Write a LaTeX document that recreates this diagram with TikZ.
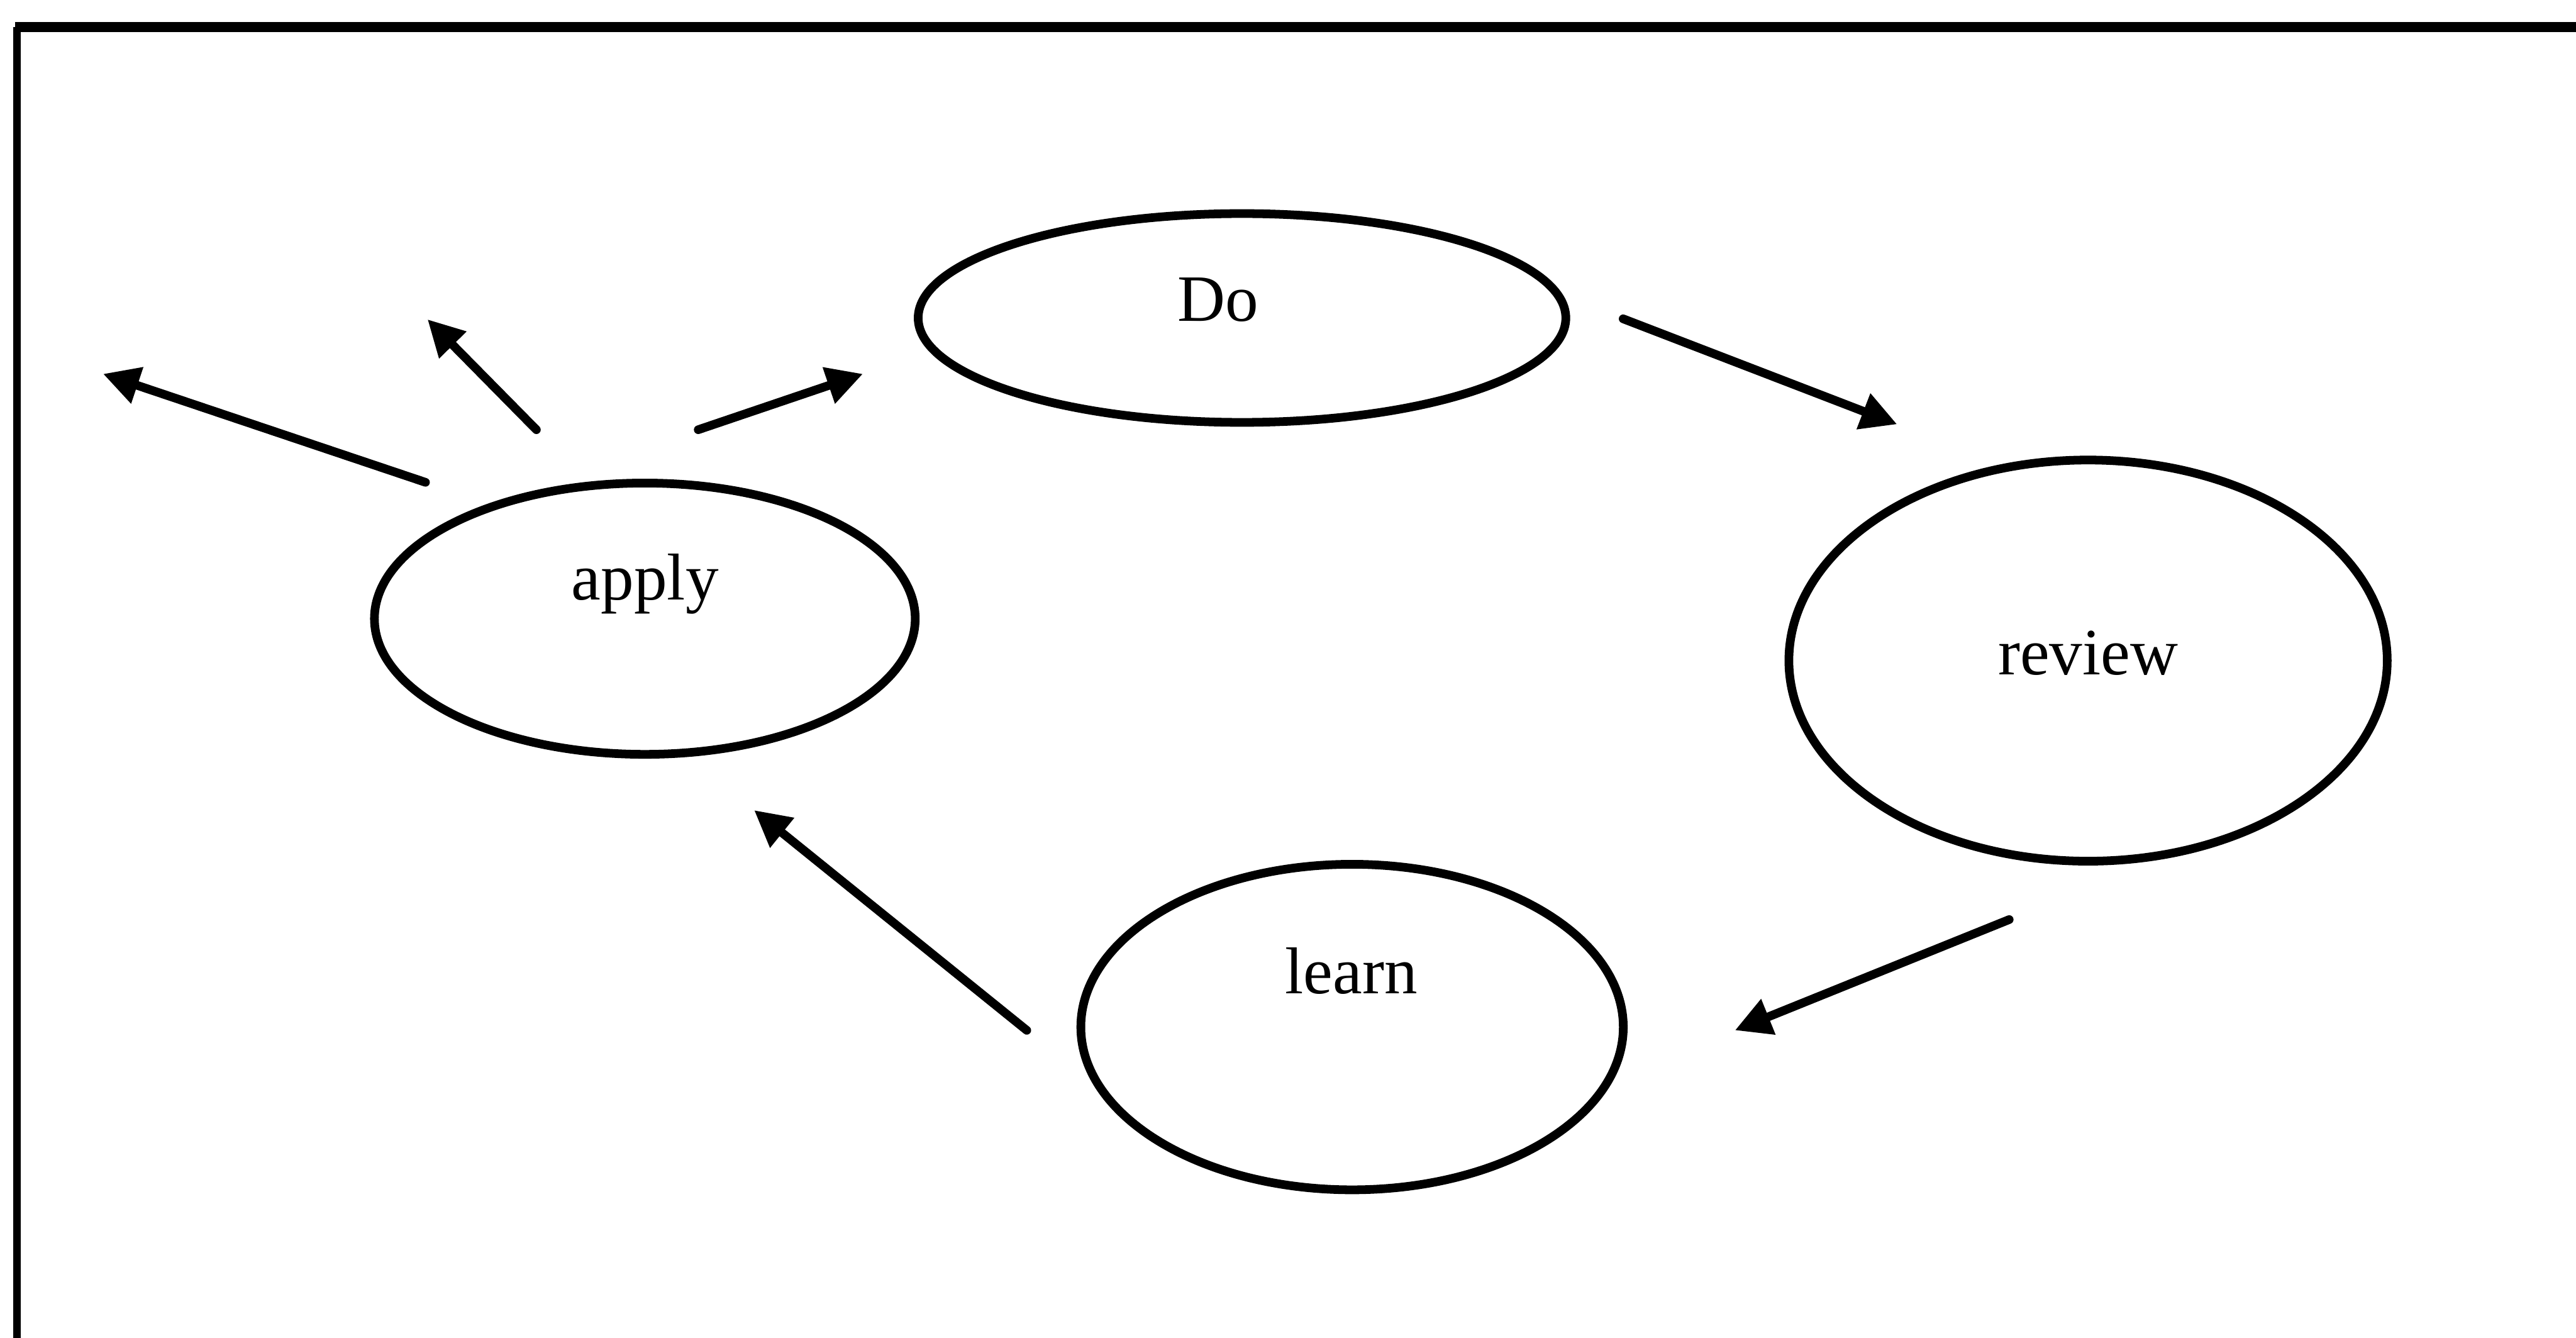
\documentclass[tikz,border=0pt]{standalone}
\usepackage{fontspec}
\setmainfont{Liberation Serif}
\usetikzlibrary{shapes.geometric,arrows.meta}
\begin{document}
\begin{tikzpicture}[x=0.01cm,y=-0.01cm,
  line width=1.5pt,
  stage/.style={draw,ellipse,inner sep=0pt,outer sep=0pt},
  word/.style={anchor=base,inner sep=0pt,font=\fontsize{11.45pt}{13pt}\selectfont},
  flow/.style={-{Triangle[length=0.22cm,width=0.22cm]},line cap=round}]
\useasboundingbox (0,0) rectangle (1568,814);

% open frame: left and top edges only
\draw[line width=1.3pt,line cap=butt] (10.2,830) -- (10.2,16.5);
\draw[line width=1.7pt,line cap=butt] (9,16.5) -- (1580,16.5);

% the four stages of the cycle
\node[stage,minimum width=3.94cm,minimum height=1.27cm] (do) at (756,193.5) {};
\node[stage,minimum width=3.29cm,minimum height=1.65cm] (apply) at (392.5,376.5) {};
\node[stage,minimum width=3.64cm,minimum height=2.44cm] (review) at (1271,402) {};
\node[stage,minimum width=3.30cm,minimum height=1.98cm] (learn) at (823,625) {};

\node[word] (doT) at (741.6,195.5) {Do};
\node[word] (applyT) at (392.7,365) {apply};
\node[word] (reviewT) at (1271,410.5) {review};
\node[word] (learnT) at (822.6,604.5) {learn};

% arrow end points
\coordinate (a1s) at (259,293.5);   \coordinate (a1e) at (62.7,227.5);
\coordinate (a2s) at (326.5,261.5); \coordinate (a2e) at (260.2,194.3);
\coordinate (a3s) at (425,261.5);   \coordinate (a3e) at (525.3,227.5);
\coordinate (a4s) at (988,194);     \coordinate (a4e) at (1154.8,258.2);
\coordinate (a5s) at (1223,559.6);  \coordinate (a5e) at (1056,627);
\coordinate (a6s) at (625,627);     \coordinate (a6e) at (459,493);

% connectors
\draw[flow] (a1s) -- (a1e);
\draw[flow] (a2s) -- (a2e);
\draw[flow] (a3s) -- (a3e);
\draw[flow] (a4s) -- (a4e);
\draw[flow] (a5s) -- (a5e);
\draw[flow] (a6s) -- (a6e);
\end{tikzpicture}
\end{document}
